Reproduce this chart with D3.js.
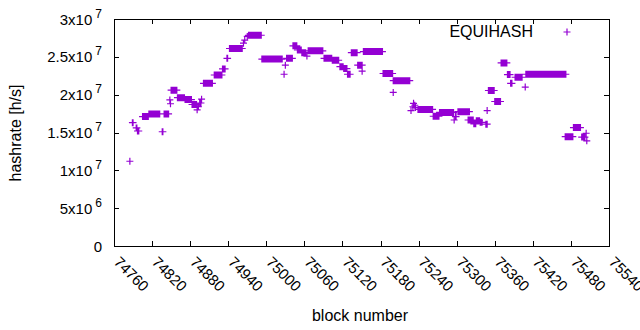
<!DOCTYPE html>
<html>
<head>
<meta charset="utf-8">
<script src="https://cdn.jsdelivr.net/npm/d3@7"></script>
<style>
  body { margin: 0; background: #fff; }
  text { font-family: "Liberation Sans", Arial, sans-serif; fill: #000; }
</style>
</head>
<body>
<svg id="chart" width="640" height="330"></svg>
<script>
// runs of equal hashrate: from block, to block, value [h/s]
var blockFrom = [74785,74789,74795,74797,74805,74815,74836,74839,74848,74849,74850,74860,74872,74883,74891,74892,74895,74898,
  74901,74918,74931,74938,74942,74964,74966,74970,74972,74993,75028,75030,75032,75042,75049,75056,75064,75066,75091,75104,
  75116,75122,75128,75134,75144,75151,75153,75184,75200,75200,75228,75231,75232,75234,75235,75239,75263,75273,75296,75298,
  75302,75318,75327,75331,75337,75346,75348,75350,75360,75370,75380,75385,75392,75408,75409,75471,75484,75497,75504,75505];
var blockTo = [74785,74790,74796,74799,74814,74832,74837,74846,74848,74849,74859,74871,74882,74890,74891,74893,74897,74898,
  74915,74930,74935,74939,74962,74964,74966,74970,74992,75025,75028,75030,75041,75048,75055,75062,75064,75089,75103,75114,
  75121,75127,75132,75143,75151,75151,75183,75199,75200,75226,75228,75231,75232,75234,75235,75262,75272,75295,75296,75299,
  75320,75326,75330,75336,75340,75348,75348,75359,75369,75379,75384,75387,75403,75408,75472,75483,75495,75502,75504,75505];
var hashrate = [1.12e7,1.63e7,1.56e7,1.52e7,1.71e7,1.745e7,1.51e7,1.745e7,1.93e7,1.88e7,2.06e7,1.96e7,1.935e7,1.87e7,1.80e7,1.84e7,1.89e7,1.94e7,
  2.15e7,2.26e7,2.34e7,2.48e7,2.61e7,2.68e7,2.72e7,2.77e7,2.785e7,2.47e7,2.27e7,2.39e7,2.48e7,2.645e7,2.59e7,2.555e7,2.51e7,2.58e7,2.48e7,2.455e7,
  2.37e7,2.345e7,2.27e7,2.555e7,2.39e7,2.31e7,2.57e7,2.28e7,2.03e7,2.185e7,1.79e7,1.84e7,1.885e7,1.86e7,1.83e7,1.805e7,1.715e7,1.765e7,1.665e7,1.71e7,
  1.775e7,1.665e7,1.615e7,1.655e7,1.635e7,1.61e7,1.79e7,2.055e7,1.91e7,2.42e7,2.265e7,2.15e7,2.23e7,2.10e7,2.27e7,1.445e7,1.565e7,1.44e7,1.49e7,1.39e7];

var xTicks = [74760,74820,74880,74940,75000,75060,75120,75180,75240,75300,75360,75420,75480,75540];
var yTicks = [0,5e6,1e7,1.5e7,2e7,2.5e7,3e7];
var yTickBase = ["0","5x10","1x10","1.5x10","2x10","2.5x10","3x10"];
var yTickExp = ["","6","7","7","7","7","7"];
var seriesName = "EQUIHASH";

// plot box (window.top is taken, so prefixed names)
var pLeft = 114, pRight = 609, pTop = 19, pBottom = 246;
var purple = "#9400d3";
var tick = 5;

var svg = d3.select("#chart");
var x = d3.scaleLinear().domain([74760,75540]).range([pLeft,pRight]);
var y = d3.scaleLinear().domain([0,3e7]).range([pBottom,pTop]);

// points, one per block inside each run
var points = [];
for (var i = 0; i < blockFrom.length; i++) {
  for (var b = blockFrom[i]; b <= blockTo[i]; b++) {
    points.push({block: b, value: hashrate[i]});
  }
}

function plus(cx, cy) {
  return "M" + (cx-3.5) + "," + cy + "H" + (cx+3.5) + "M" + cx + "," + (cy-3.5) + "V" + (cy+3.5);
}

// ticks (inward, mirrored)
var g = svg.append("g").attr("stroke","#000").attr("stroke-width",1);
xTicks.forEach(function(t){
  var px = Math.round(x(t)) + 0.5;
  g.append("line").attr("x1",px).attr("x2",px).attr("y1",pBottom).attr("y2",pBottom-tick);
  g.append("line").attr("x1",px).attr("x2",px).attr("y1",pTop).attr("y2",pTop+tick);
});
yTicks.forEach(function(t){
  var py = Math.round(y(t)) + 0.5;
  g.append("line").attr("x1",pLeft).attr("x2",pLeft+tick).attr("y1",py).attr("y2",py);
  g.append("line").attr("x1",pRight).attr("x2",pRight-tick).attr("y1",py).attr("y2",py);
});

// data
svg.append("path")
  .attr("d", points.map(function(d){ return plus(x(d.block), y(d.value)); }).join(""))
  .attr("stroke", purple).attr("stroke-width", 1.2).attr("fill","none");

// border
svg.append("rect")
  .attr("x", pLeft+0.5).attr("y", pTop+0.5)
  .attr("width", pRight-pLeft).attr("height", pBottom-pTop)
  .attr("fill","none").attr("stroke","#000").attr("stroke-width",1);

// y tick labels
yTicks.forEach(function(t, i){
  var lab = svg.append("text").attr("x", 102).attr("y", y(t)+5.5)
    .attr("text-anchor","end").style("font-size","15px");
  lab.append("tspan").text(yTickBase[i]);
  if (yTickExp[i] != "") {
    lab.append("tspan").attr("dx",3).attr("dy",-7).style("font-size","12px").text(yTickExp[i]);
  }
});

// x tick labels, rotated
xTicks.forEach(function(t){
  svg.append("text")
    .attr("transform","translate(" + (x(t)-1) + ",263) rotate(45)")
    .style("font-size","15px")
    .text(t);
});

// axis titles
svg.append("text").attr("x", 360).attr("y", 321).attr("text-anchor","middle")
  .style("font-size","16px").text("block number");
svg.append("text").attr("transform","translate(21,133) rotate(-90)").attr("text-anchor","middle")
  .style("font-size","16px").text("hashrate [h/s]");

// legend
svg.append("text").attr("x", 533).attr("y", 37).attr("text-anchor","end")
  .style("font-size","16px").text(seriesName);
svg.append("path").attr("d", plus(567, 32)).attr("stroke", purple).attr("stroke-width",1.2);
</script>
</body>
</html>
